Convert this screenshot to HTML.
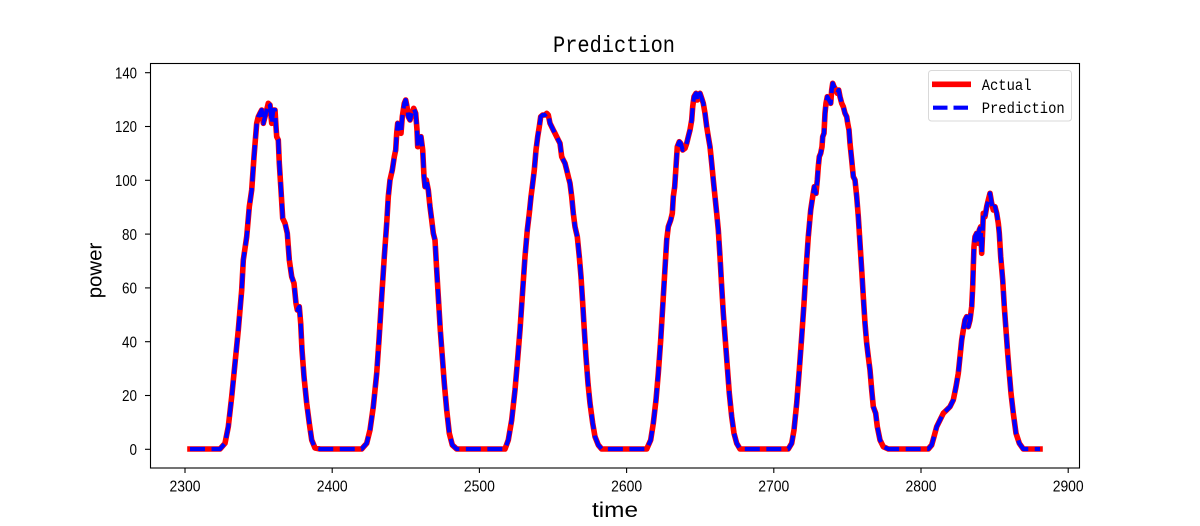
<!DOCTYPE html>
<html>
<head>
<meta charset="utf-8">
<style>
  html,body{margin:0;padding:0;background:#fff;}
  svg{display:block;}
</style>
</head>
<body>
<svg width="1200" height="526" viewBox="0 0 1200 526" xmlns="http://www.w3.org/2000/svg">
  <rect x="0" y="0" width="1200" height="526" fill="#fff"/>
  <!-- title -->
  <text x="614" y="52" font-family="Liberation Mono, monospace" font-size="23" text-anchor="middle" textLength="122" lengthAdjust="spacingAndGlyphs" fill="#000">Prediction</text>

  <defs>
    <clipPath id="ax"><rect x="150" y="63" width="930" height="405"/></clipPath>
    <path id="series" fill="none"
      d="M190,449 L220,449 L225,443.3 L228.3,426.7 L231.7,396.7 L235,363.3 L238.3,330 L241.7,290 L243.3,260 L246.7,236.7 L249.3,206.7 L251.7,190 L254,156.7 L256.7,123.3 L258.3,116.7 L260,113.3 L261.7,110 L263.3,123.3 L265,116.7 L266.7,110 L268.3,103.3 L270,105 L271.7,123.3 L273.3,110 L275,110 L276,126.7 L276.7,136.7 L278.3,140 L279.3,163.3 L281,190 L282.7,218.3 L285,223.3 L287.3,233.3 L289.3,260 L291.7,276.7 L294,283.3 L296,303.3 L297.3,310 L299.3,306.7 L300.7,323.3 L302,350 L304,376.7 L306.7,403.3 L309.3,423.3 L311.7,440 L315,448 L320,449
      L361.7,449 L366.7,443.3 L370,430 L373.3,406.7 L376.7,373.3 L379,340 L381.7,296.7 L384.3,256.7 L386.7,223.3 L388.3,196.7 L390,180 L392.3,170 L394.3,156.7 L395.7,150 L396.7,133.3 L397.7,123.3 L399.3,126.7 L401,133.3 L402.3,116.7 L404.3,103.3 L405.7,100 L407,106.7 L408.3,116.7 L410,120 L411.7,113.3 L413.7,108.3 L415.7,113.3 L417,130 L417.7,146.7 L419,140 L421,136.7 L422.7,150 L424,176.7 L425,186.7 L426.3,180 L428.3,190 L430,206.7 L431.7,220 L433.3,233.3 L435,240 L436.7,270 L438.3,296.7 L440.3,330 L442.3,356.7 L444.3,383.3 L446.7,410 L449.3,433.3 L452.3,445 L456.7,449
      L505,449 L508.3,440 L511.7,420 L515,390 L517.3,363.3 L520,330 L522.7,290 L525,256.7 L527.3,230 L529.3,213.3 L531,196.7 L532.7,183.3 L534.3,170 L536,150 L537.7,136.7 L539.3,126.7 L540.7,116.7 L542.7,115 L545,115 L546.7,113.3 L548.3,115 L550,123.3 L551.7,126.7 L553.3,130 L555,133.3 L556.7,136.7 L558.3,140 L560,143.3 L561.7,156.7 L563.3,160 L565,163.3 L566.7,170 L568.3,176.7 L570,183.3 L571.7,196.7 L573.3,213.3 L575,226.7 L577.3,236.7 L579.3,256.7 L581,276.7 L582.7,303.3 L584.3,330 L586,356.7 L588,383.3 L590,403.3 L592.7,423.3 L595,436.7 L598.3,445 L601.7,449
      L646.7,449 L650.7,440 L653.3,423.3 L656,400 L658.3,373.3 L660.7,340 L662.7,306.7 L664.7,273.3 L666.7,240 L668.3,226.7 L670.7,220 L672.3,213.3 L673.3,196.7 L674.7,186.7 L676,166.7 L677.3,146.7 L679.3,141.7 L680.7,143.3 L682.7,150 L685,148.3 L686.7,143.3 L688.3,136.7 L690,130 L691.7,120 L692.7,106.7 L694,96.7 L696,93.3 L697.3,100 L698.7,95 L700,93.3 L701.7,98.3 L703.3,103.3 L705,113.3 L706.7,126.7 L708.3,136.7 L710,146.7 L711.7,163.3 L713.3,180 L715,196.7 L716.7,213.3 L718.3,230 L720,256.7 L721.7,286.7 L723.3,313.3 L725.3,340 L727.3,366.7 L729.3,393.3 L731.7,416.7 L734,433.3 L736.7,443.3 L740,449
      L788.3,449 L791.7,443.3 L794,430 L796.7,403.3 L799.3,370 L801.7,336.7 L804,303.3 L806,270 L808.3,236.7 L810.7,210 L812.7,196.7 L814.3,186.7 L816,193.3 L817.3,180 L818.3,166.7 L819.3,156.7 L820.7,153.3 L822,146.7 L822.7,136.7 L824,133.3 L825,113.3 L826,103.3 L827.3,96.7 L829,100 L830.7,103.3 L831.7,90 L832.7,83.3 L834,86.7 L836,90 L837.3,93.3 L838.7,90 L840,96.7 L841.7,103.3 L843.3,106.7 L845,113.3 L846.7,116.7 L847.7,123.3 L849,130 L850,143.3 L851.7,160 L853.3,176.7 L855,180 L856.7,196.7 L858.3,216.7 L860,243.3 L861.7,270 L863.3,296.7 L865,323.3 L866.7,343.3 L868.3,356.7 L870,370 L871.7,390 L873.3,406.7 L875.7,413.3 L877.3,426.7 L880,440 L883.3,446.7 L888.3,449
      L928.3,449 L931.7,445 L934,436.7 L936.7,426.7 L940,420 L943.3,413.3 L946.7,410 L950,406.7 L953.3,400 L956,386.7 L958.3,373.3 L960,356.7 L961.7,340 L963.3,330 L965,320 L966.7,316.7 L968.3,326.7 L970,320 L971.7,306.7 L972.7,286.7 L973.3,266.7 L974,246.7 L975,236.7 L976.7,233.3 L978.3,243.3 L979.3,230 L980.7,226.7 L981.7,253.3 L982.7,230 L983.3,213.3 L985,216.7 L986.7,206.7 L988.3,200 L990,193.3 L991.7,203.3 L993.3,210 L995,206.7 L996.7,213.3 L998.3,223.3 L999.3,233.3 L1000.7,256.7 L1002.7,280 L1004.3,306.7 L1006,330 L1007.7,353.3 L1009.3,373.3 L1011,393.3 L1013.3,413.3 L1016,433.3 L1019.3,443.3 L1023.3,449 L1040,449"/>
  </defs>

  <g clip-path="url(#ax)">
    <use href="#series" fill="none" stroke="#ff0000" stroke-width="5.6" stroke-linejoin="round" stroke-linecap="square"/>
    <use href="#series" fill="none" stroke="#0000ff" stroke-width="4.2" stroke-linejoin="round" stroke-dasharray="15 6.5" stroke-linecap="butt"/>
  </g>

  <!-- axes frame -->
  <rect x="150.5" y="63.5" width="929" height="404.5" fill="none" stroke="#000" stroke-width="1.1"/>

  <!-- y ticks -->
  <g stroke="#000" stroke-width="1.1">
    <line x1="145" y1="449.3" x2="150" y2="449.3"/>
    <line x1="145" y1="395.5" x2="150" y2="395.5"/>
    <line x1="145" y1="341.7" x2="150" y2="341.7"/>
    <line x1="145" y1="287.9" x2="150" y2="287.9"/>
    <line x1="145" y1="234.1" x2="150" y2="234.1"/>
    <line x1="145" y1="180.3" x2="150" y2="180.3"/>
    <line x1="145" y1="126.5" x2="150" y2="126.5"/>
    <line x1="145" y1="72.7" x2="150" y2="72.7"/>
  </g>
  <g font-family="Liberation Sans, sans-serif" font-size="15.5" fill="#000" text-anchor="end">
    <text x="137" y="455" textLength="7.5" lengthAdjust="spacingAndGlyphs">0</text>
    <text x="137" y="401.2" textLength="15" lengthAdjust="spacingAndGlyphs">20</text>
    <text x="137" y="347.4" textLength="15" lengthAdjust="spacingAndGlyphs">40</text>
    <text x="137" y="293.6" textLength="15" lengthAdjust="spacingAndGlyphs">60</text>
    <text x="137" y="239.8" textLength="15" lengthAdjust="spacingAndGlyphs">80</text>
    <text x="137" y="186" textLength="22" lengthAdjust="spacingAndGlyphs">100</text>
    <text x="137" y="132.2" textLength="22" lengthAdjust="spacingAndGlyphs">120</text>
    <text x="137" y="78.4" textLength="22" lengthAdjust="spacingAndGlyphs">140</text>
  </g>

  <!-- x ticks -->
  <g stroke="#000" stroke-width="1.1">
    <line x1="185" y1="468" x2="185" y2="473"/>
    <line x1="332.2" y1="468" x2="332.2" y2="473"/>
    <line x1="479.4" y1="468" x2="479.4" y2="473"/>
    <line x1="626.6" y1="468" x2="626.6" y2="473"/>
    <line x1="773.8" y1="468" x2="773.8" y2="473"/>
    <line x1="921" y1="468" x2="921" y2="473"/>
    <line x1="1068.2" y1="468" x2="1068.2" y2="473"/>
  </g>
  <g font-family="Liberation Sans, sans-serif" font-size="15.5" fill="#000" text-anchor="middle">
    <text x="185" y="491.5" textLength="31" lengthAdjust="spacingAndGlyphs">2300</text>
    <text x="332.2" y="491.5" textLength="31" lengthAdjust="spacingAndGlyphs">2400</text>
    <text x="479.4" y="491.5" textLength="31" lengthAdjust="spacingAndGlyphs">2500</text>
    <text x="626.6" y="491.5" textLength="31" lengthAdjust="spacingAndGlyphs">2600</text>
    <text x="773.8" y="491.5" textLength="31" lengthAdjust="spacingAndGlyphs">2700</text>
    <text x="921" y="491.5" textLength="31" lengthAdjust="spacingAndGlyphs">2800</text>
    <text x="1068.2" y="491.5" textLength="31" lengthAdjust="spacingAndGlyphs">2900</text>
  </g>

  <!-- axis labels -->
  <text x="615" y="517" font-family="Liberation Sans, sans-serif" font-size="21" text-anchor="middle" textLength="46" lengthAdjust="spacingAndGlyphs" fill="#000">time</text>
  <text transform="translate(101.5,270.5) rotate(-90)" x="0" y="0" font-family="Liberation Sans, sans-serif" font-size="20.5" text-anchor="middle" textLength="55.6" lengthAdjust="spacingAndGlyphs" fill="#000">power</text>

  <!-- legend -->
  <rect x="928.5" y="70.5" width="143" height="50.5" rx="3" ry="3" fill="#fff" fill-opacity="0.8" stroke="#d9d9d9" stroke-width="1"/>
  <line x1="932" y1="84.3" x2="971" y2="84.3" stroke="#ff0000" stroke-width="5.6"/>
  <line x1="933" y1="107.7" x2="969" y2="107.7" stroke="#0000ff" stroke-width="4.2" stroke-dasharray="14.5 6"/>
  <text x="981.7" y="90" font-family="Liberation Mono, monospace" font-size="16" textLength="49.8" lengthAdjust="spacingAndGlyphs" fill="#000">Actual</text>
  <text x="981.7" y="113" font-family="Liberation Mono, monospace" font-size="16" textLength="83" lengthAdjust="spacingAndGlyphs" fill="#000">Prediction</text>
</svg>
</body>
</html>
